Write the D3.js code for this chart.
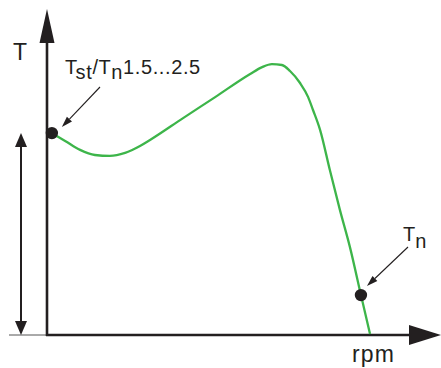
<!doctype html>
<html>
<head>
<meta charset="utf-8">
<title>Torque curve</title>
<style>
  body { margin: 0; padding: 0; background: #fff; }
  text { font-family: "Liberation Sans", Arial, Helvetica, sans-serif; fill: #231f20; }
</style>
</head>
<body>
<svg id="chart" width="441" height="368"></svg>
<script src="https://cdn.jsdelivr.net/npm/d3@7"></script>
<script>
// speed (% of synchronous) and torque (arbitrary units)
var rpm    = [1.5, 5.6, 10.2, 14.8, 19.4, 24.1, 28.7, 31.8, 42.0, 51.9, 62.7, 66.4, 69.4, 72.5, 75.0, 78.1, 80.6, 82.1, 84.3, 87.3, 90.4, 93.5, 96.9, 99.7];
var torque = [6.73, 6.47, 6.17, 6.0, 5.97, 6.07, 6.3, 6.5, 7.23, 7.93, 8.7, 8.93, 9.03, 9.0, 8.8, 8.4, 7.93, 7.5, 6.83, 5.5, 4.17, 2.93, 1.33, 0.03];
var startPoint = {rpm: 1.5, torque: 6.73};
var ratedPoint = {rpm: 96.9, torque: 1.33};
var axisLabels = {y: "T", x: "rpm"};

var svg = d3.select("#chart");
var dark = "#231f20", green = "#3db54a";

var x = d3.scaleLinear().domain([0, 100]).range([47, 371]);
var y = d3.scaleLinear().domain([0, 10]).range([335, 35]);

var data = rpm.map(function(r, i) { return [r, torque[i]]; });

// thin baseline left of axis
svg.append("line")
    .attr("x1", 9).attr("x2", x(0)).attr("y1", y(0)).attr("y2", y(0))
    .attr("stroke", "#555").attr("stroke-width", 1);

// axes
svg.append("line")
    .attr("x1", x(0)).attr("x2", x(0)).attr("y1", y(0) + 1).attr("y2", 40)
    .attr("stroke", dark).attr("stroke-width", 2.6);
svg.append("path")
    .attr("d", "M" + x(0) + ",9 L" + (x(0) - 7.5) + ",43 L" + (x(0) + 7.5) + ",43 Z")
    .attr("fill", dark);

svg.append("line")
    .attr("x1", x(0) - 1).attr("x2", 412).attr("y1", y(0)).attr("y2", y(0))
    .attr("stroke", dark).attr("stroke-width", 2.6);
svg.append("path")
    .attr("d", "M441," + y(0) + " L409," + (y(0) - 10) + " L409," + (y(0) + 10) + " Z")
    .attr("fill", dark);

// double-headed arrow for starting torque
var ax = 21, yTop = y(startPoint.torque), yBot = y(0);
svg.append("line")
    .attr("x1", ax).attr("x2", ax).attr("y1", yTop + 10).attr("y2", yBot - 10)
    .attr("stroke", dark).attr("stroke-width", 2);
svg.append("path")
    .attr("d", "M" + ax + "," + yTop + " L" + (ax - 6) + "," + (yTop + 14) + " L" + (ax + 6) + "," + (yTop + 14) + " Z")
    .attr("fill", dark);
svg.append("path")
    .attr("d", "M" + ax + "," + yBot + " L" + (ax - 6) + "," + (yBot - 14) + " L" + (ax + 6) + "," + (yBot - 14) + " Z")
    .attr("fill", dark);

// torque curve
var line = d3.line()
    .x(function(d) { return x(d[0]); })
    .y(function(d) { return y(d[1]); })
    .curve(d3.curveMonotoneX);

svg.append("path")
    .datum(data)
    .attr("d", line)
    .attr("fill", "none")
    .attr("stroke", green)
    .attr("stroke-width", 2.3);

// points
[startPoint, ratedPoint].forEach(function(p) {
    svg.append("circle")
        .attr("cx", x(p.rpm)).attr("cy", y(p.torque)).attr("r", 6.2)
        .attr("fill", dark);
});

// pointer arrows
function pointer(x1, y1, x2, y2) {
    var ang = Math.atan2(y2 - y1, x2 - x1), len = 11, w = 3.5;
    var bx = x2 - len * Math.cos(ang), by = y2 - len * Math.sin(ang);
    svg.append("line")
        .attr("x1", x1).attr("y1", y1).attr("x2", bx).attr("y2", by)
        .attr("stroke", dark).attr("stroke-width", 1.1);
    svg.append("path")
        .attr("d", "M" + x2 + "," + y2 +
            " L" + (bx + w * Math.sin(ang)) + "," + (by - w * Math.cos(ang)) +
            " L" + (bx - w * Math.sin(ang)) + "," + (by + w * Math.cos(ang)) + " Z")
        .attr("fill", dark);
}
pointer(100, 87, x(startPoint.rpm) + 10, y(startPoint.torque) - 6);
pointer(408, 247, x(ratedPoint.rpm) + 6, y(ratedPoint.torque) - 9);

// labels
svg.append("text").attr("x", 13).attr("y", 60)
    .style("font-size", "23px").text(axisLabels.y);
svg.append("text").attr("x", 352).attr("y", 362)
    .style("font-size", "23px").style("letter-spacing", "1.2px").text(axisLabels.x);

var lab = svg.append("text").attr("x", 65).attr("y", 74)
    .style("font-size", "20px").style("letter-spacing", "0.6px");
lab.append("tspan").text("T");
lab.append("tspan").attr("dy", 5).text("st");
lab.append("tspan").attr("dy", -5).text("/T");
lab.append("tspan").attr("dy", 5).text("n");
lab.append("tspan").attr("dy", -5).text("1.5...2.5");

var tn = svg.append("text").attr("x", 403).attr("y", 241).style("font-size", "20px");
tn.append("tspan").text("T");
tn.append("tspan").attr("dy", 7).text("n");
</script>
</body>
</html>
